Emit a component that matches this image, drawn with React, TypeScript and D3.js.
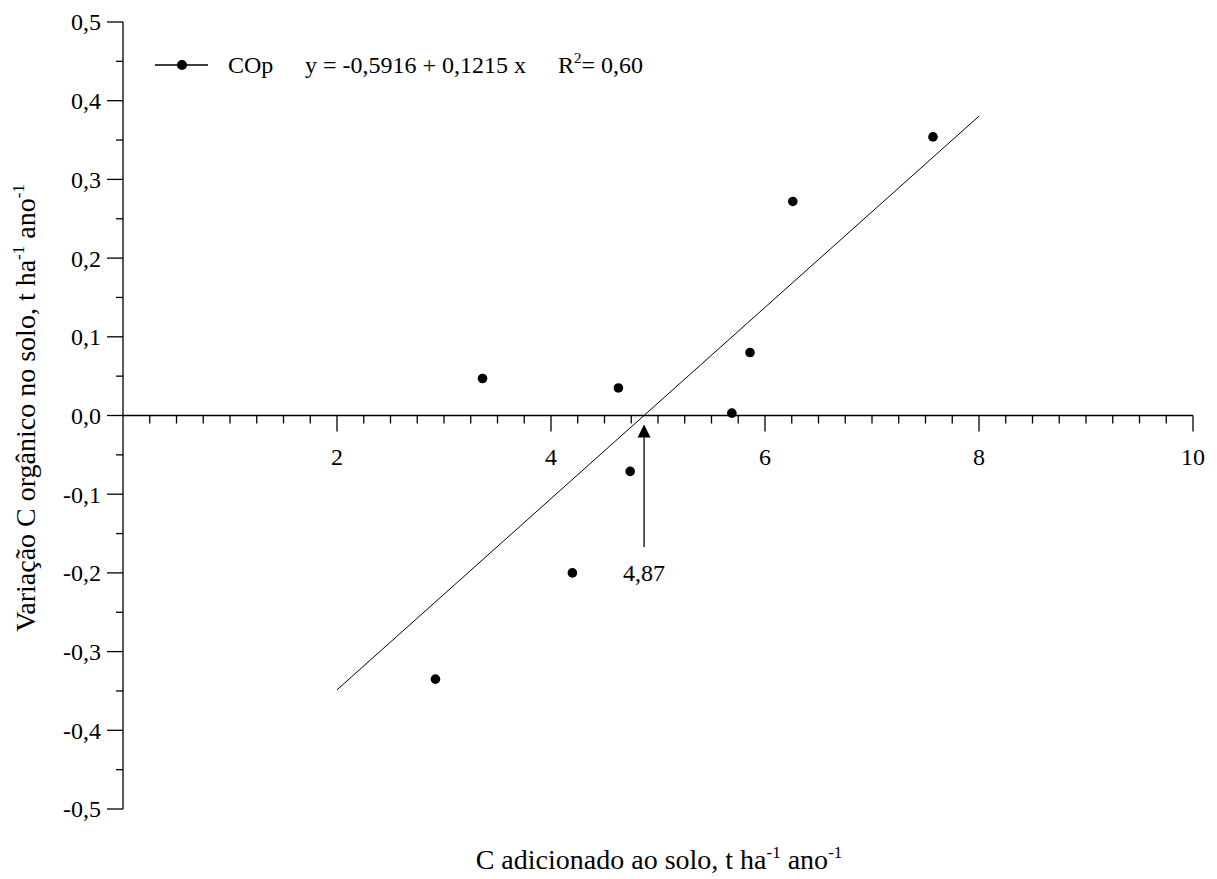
import React from "react";
import * as d3 from "d3";

const xValues = [2.92, 3.36, 4.2, 4.63, 4.74, 5.69, 5.86, 6.26, 7.57];
const yValues = [-0.335, 0.047, -0.2, 0.035, -0.071, 0.003, 0.08, 0.272, 0.354];
const xTickLabels = [2, 4, 6, 8, 10];
const yTickValues = [0.5, 0.4, 0.3, 0.2, 0.1, 0.0, -0.1, -0.2, -0.3, -0.4, -0.5];
const intercept = -0.5916;
const slope = 0.1215;
const lineRange = [2, 8];
const breakEven = 4.87;

const W = 1217;
const H = 879;
const FONT = '"Liberation Serif", "Times New Roman", "DejaVu Serif", serif';
const TICK = 24;
const TITLE = 28;

export default function App() {
  const x = d3.scaleLinear().domain([0, 10]).range([123, 1193]);
  const y = d3.scaleLinear().domain([-0.5, 0.5]).range([809, 22]);
  const fmtY = (v: number) => d3.format(".1f")(v).replace(".", ",").replace("−", "-");
  const xMinor = d3.range(1, 41, 1).map((i) => i * 0.25);
  const yMinor = d3.range(-10, 11, 1).map((i) => i * 0.05);
  const line = d3.line<number>().x((v) => x(v)).y((v) => y(intercept + slope * v));
  const y0 = y(0);
  const ax = x(breakEven);
  const ts = { fontFamily: FONT };
  return (
    <svg width={W} height={H} style={{ position: "absolute", left: 0, top: 0, background: "#fff", fontFamily: FONT }}>
      <rect width={W} height={H} fill="#fff" />
      {/* y axis */}
      <line x1={x(0)} x2={x(0)} y1={y(0.5)} y2={y(-0.5)} stroke="#000" strokeWidth={1.3} />
      {yMinor.map((v, i) => {
        const major = Math.abs(Math.round(v * 20)) % 2 === 0;
        return (
          <line key={"ym" + i} x1={x(0) - (major ? 16 : 7)} x2={x(0)} y1={y(v)} y2={y(v)} stroke="#000" strokeWidth={1.3} />
        );
      })}
      {yTickValues.map((v) => (
        <text key={"yt" + v} x={101} y={y(v)} dy="0.35em" textAnchor="end" fontSize={TICK} style={ts}>
          {fmtY(v)}
        </text>
      ))}
      {/* x axis */}
      <line x1={x(0)} x2={x(10)} y1={y0} y2={y0} stroke="#000" strokeWidth={1.3} />
      {xMinor.map((v, i) => {
        const major = Math.abs(v - Math.round(v / 2) * 2) < 1e-6;
        return (
          <line key={"xm" + i} x1={x(v)} x2={x(v)} y1={y0} y2={y0 + (major ? 16 : 8)} stroke="#000" strokeWidth={1.3} />
        );
      })}
      {xTickLabels.map((v) => (
        <text key={"xt" + v} x={x(v)} y={465} textAnchor="middle" fontSize={TICK} style={ts}>
          {v}
        </text>
      ))}
      {/* regression line */}
      <path d={line(lineRange) || ""} fill="none" stroke="#000" strokeWidth={1} />
      {/* points */}
      {xValues.map((v, i) => (
        <circle key={"p" + i} cx={x(v)} cy={y(yValues[i])} r={4.8} fill="#000" />
      ))}
      {/* arrow */}
      <line x1={ax} x2={ax} y1={547} y2={432} stroke="#000" strokeWidth={1.3} />
      <path d={`M${ax},${y0 + 9} L${ax - 6.5},${y0 + 22} L${ax + 6.5},${y0 + 22} Z`} fill="#000" />
      <text x={ax} y={581} textAnchor="middle" fontSize={TICK} style={ts}>
        {String(breakEven).replace(".", ",")}
      </text>
      {/* legend */}
      <line x1={155} x2={208} y1={65} y2={65} stroke="#000" strokeWidth={1.3} />
      <circle cx={182} cy={65} r={5} fill="#000" />
      <text x={228} y={73} fontSize={TICK} style={ts}>COp</text>
      <text x={305} y={73} fontSize={TICK} style={ts}>y = -0,5916 + 0,1215 x</text>
      <text x={558} y={73} fontSize={TICK} style={ts}>
        R<tspan dy={-10} fontSize={15}>2</tspan>
        <tspan dy={10}>= 0,60</tspan>
      </text>
      {/* axis titles */}
      <text x={659} y={869} textAnchor="middle" fontSize={TITLE} style={ts}>
        C adicionado ao solo, t ha<tspan dy={-11} fontSize={17}>-1</tspan>
        <tspan dy={11}> ano</tspan>
        <tspan dy={-11} fontSize={17}>-1</tspan>
      </text>
      <text transform={`translate(35, 408) rotate(-90)`} textAnchor="middle" fontSize={TITLE} style={ts}>
        Variação C orgânico no solo, t ha<tspan dy={-11} fontSize={17}>-1</tspan>
        <tspan dy={11}> ano</tspan>
        <tspan dy={-11} fontSize={17}>-1</tspan>
      </text>
    </svg>
  );
}
